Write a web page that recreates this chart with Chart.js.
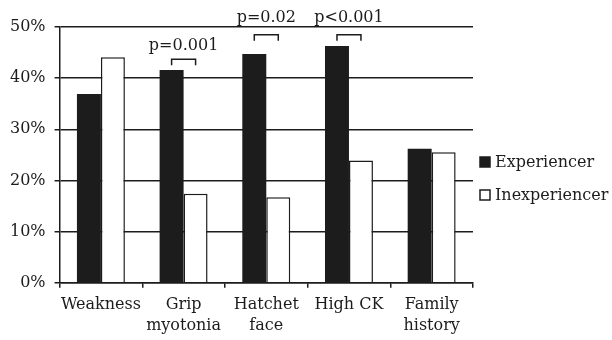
<!DOCTYPE html>
<html>
<head>
<meta charset="utf-8">
<script src="https://cdn.jsdelivr.net/npm/chart.js@4"></script>
<style>
  html, body { margin: 0; padding: 0; background: #fff; }
  #wrap { width: 612px; height: 340px; position: relative; }
</style>
</head>
<body>
<div id="wrap"><canvas id="chart"></canvas></div>
<script>
// Data
const categories = ['Weakness', ['Grip', 'myotonia'], ['Hatchet', 'face'], 'High CK', ['Family', 'history']];
const experiencer = [36.9, 41.6, 44.7, 46.3, 26.2];
const inexperiencer = [44.1, 17.4, 16.7, 23.9, 25.5];
const yTicks = [0, 10, 20, 30, 40, 50];

// significance brackets: category index, p label, bracket level (%), label baseline (%)
const sigIndex = [1, 2, 3];
const sigLabels = ['p=0.001', 'p=0.02', 'p<0.001'];
const sigLevel = [43.7, 48.5, 48.5];
const sigTextLevel = [45.6, 51.0, 51.0];

const FONT = '"DejaVu Serif", "Liberation Serif", serif';
const INK = '#1c1c1c';

// brackets + legend drawn after the chart
const annotations = {
    id: 'annotations',
    afterDraw(chart) {
        const c = chart.ctx;
        const y = chart.scales.y;
        const m0 = chart.getDatasetMeta(0);
        const m1 = chart.getDatasetMeta(1);
        c.save();
        c.strokeStyle = INK;
        c.lineWidth = 1.5;
        c.fillStyle = INK;
        c.font = '16px ' + FONT;
        c.textAlign = 'center';
        c.textBaseline = 'alphabetic';
        sigIndex.forEach((idx, i) => {
            const x1 = m0.data[idx].x;
            const x2 = m1.data[idx].x;
            const top = y.getPixelForValue(sigLevel[i]);
            c.beginPath();
            c.moveTo(x1, top + 6);
            c.lineTo(x1, top);
            c.lineTo(x2, top);
            c.lineTo(x2, top + 6);
            c.stroke();
            c.fillText(sigLabels[i], (x1 + x2) / 2, y.getPixelForValue(sigTextLevel[i]));
        });

        // legend
        const lx = chart.chartArea.right + 7;
        const rows = [162, 195];
        chart.data.datasets.forEach((ds, i) => {
            const cy = rows[i];
            c.fillStyle = ds.backgroundColor;
            c.fillRect(lx, cy - 5, 10, 10);
            c.strokeStyle = INK;
            c.lineWidth = 1.5;
            c.strokeRect(lx, cy - 5, 10, 10);
            c.fillStyle = INK;
            c.textAlign = 'left';
            c.textBaseline = 'middle';
            c.fillText(ds.label, lx + 15, cy + 1);
        });
        c.restore();
    }
};

const ctx = document.getElementById('chart').getContext('2d');
new Chart(ctx, {
    type: 'bar',
    data: {
        labels: categories,
        datasets: [{
            label: 'Experiencer',
            data: experiencer,
            backgroundColor: INK,
            borderColor: INK,
            borderWidth: 0,
            categoryPercentage: 0.58,
            barPercentage: 1.0
        }, {
            label: 'Inexperiencer',
            data: inexperiencer,
            backgroundColor: '#ffffff',
            borderColor: INK,
            borderWidth: 1.5,
            borderSkipped: 'bottom',
            categoryPercentage: 0.58,
            barPercentage: 1.0
        }]
    },
    options: {
        responsive: true,
        maintainAspectRatio: false,
        animation: false,
        layout: { padding: { left: 1, right: 139, top: 27, bottom: -3 } },
        scales: {
            x: {
                grid: { drawOnChartArea: false, drawTicks: true, tickLength: 5, color: INK, lineWidth: 1.5 },
                border: { display: true, color: INK, width: 1.5 },
                ticks: {
                    color: INK,
                    padding: 6,
                    maxRotation: 0,
                    autoSkip: false,
                    font: { family: FONT, size: 16, lineHeight: 1.35 }
                }
            },
            y: {
                min: 0,
                max: 50,
                afterBuildTicks: (axis) => { axis.ticks = yTicks.map(v => ({ value: v })); },
                grid: { color: INK, lineWidth: 1.5, tickLength: 5 },
                border: { display: true, color: INK, width: 1.5 },
                ticks: {
                    color: INK,
                    padding: 9,
                    callback: (v) => v + '%',
                    font: { family: FONT, size: 16 }
                }
            }
        },
        plugins: {
            legend: { display: false },
            tooltip: { enabled: false }
        }
    },
    plugins: [annotations]
});
</script>
</body>
</html>
